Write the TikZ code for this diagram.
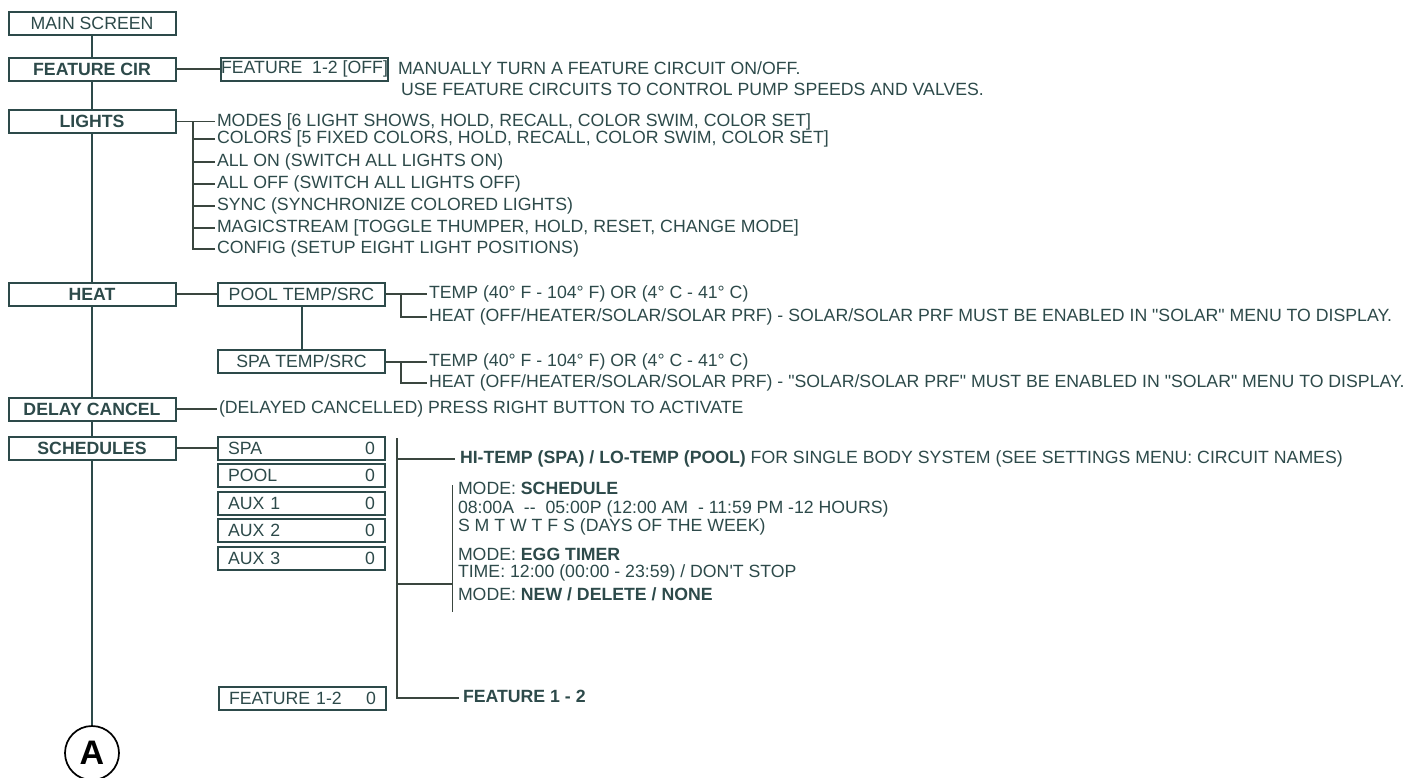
\documentclass[tikz,border=0pt]{standalone}
\usepackage{fontspec}
\setmainfont{Liberation Sans}[Ligatures=TeXOff]
\definecolor{ink}{HTML}{2D4A4A}
\definecolor{wire}{HTML}{3A463F}
\begin{document}
\begin{tikzpicture}[x=1pt, y=-1pt, color=ink, line width=2pt,
    every node/.style={font=\fontsize{17.7}{21}\selectfont},
    menu/.style={draw, fill=white, minimum width=167pt, minimum height=23pt, inner sep=0pt, font=\fontsize{17.7}{21}\selectfont\bfseries},
    sub/.style={draw, fill=white, minimum width=167pt, minimum height=23pt, inner sep=0pt},
    slot/.style={sub, text width=147pt, inner xsep=10pt, align=left},
    note/.style={anchor=west, inner sep=1pt, text height=12.5pt, text depth=3.5pt},
    link/.style={draw=wire}]
    \useasboundingbox (0,0) rectangle (1417,777);

    % main menu column
    \node[menu, font=\fontsize{17.7}{21}\selectfont] (main) at (92,23.5) {MAIN SCREEN};
    \node[menu] (fcir) at (92,69) {FEATURE CIR};
    \node[menu] (lights) at (92,121.5) {LIGHTS};
    \node[menu] (heat) at (92,294) {HEAT};
    \node[menu] (delay) at (92,409) {DELAY CANCEL};
    \node[menu] (sched) at (92,448) {SCHEDULES};
    \node[circle, draw=black, text=black, line width=1.7pt, minimum size=54pt, inner sep=0pt,
        font=\fontsize{34}{34}\selectfont\bfseries] (A) at (92,753) {A};
    \draw (main) -- (fcir) -- (lights) -- (heat) -- (delay) -- (sched) -- (A);

    % feature circuits
    \node[sub] (fbox) at (304.5,69) {FEATURE\ \ 1-2 [OFF]};
    \draw[link] (fcir) -- (fbox);
    \node[note] (fn1) at (396,70) {MANUALLY TURN A FEATURE CIRCUIT ON/OFF.};
    \node[note] (fn2) at (399,91) {USE FEATURE CIRCUITS TO CONTROL PUMP SPEEDS AND VALVES.};

    % lights
    \coordinate (lj) at (193,121.5);
    \foreach \k/\y/\t in {1/121.5/{MODES [6 LIGHT SHOWS, HOLD, RECALL, COLOR SWIM, COLOR SET]},
        2/139.3/{COLORS [5 FIXED COLORS, HOLD, RECALL, COLOR SWIM, COLOR SET]},
        3/161.7/{ALL ON (SWITCH ALL LIGHTS ON)},
        4/184/{ALL OFF (SWITCH ALL LIGHTS OFF)},
        5/206/{SYNC (SYNCHRONIZE COLORED LIGHTS)},
        6/228.3/{MAGICSTREAM [TOGGLE THUMPER, HOLD, RESET, CHANGE MODE]},
        7/249.3/{CONFIG (SETUP EIGHT LIGHT POSITIONS)}}
        \node[note] (l\k) at (215,\y) {\t};
    \draw[link, line width=1.5pt] (lights) -- (l1);
    \foreach \k in {2,...,7}
        \draw[link] (lj) |- (l\k.west);

    % heat
    \node[sub] (pool) at (301.5,294) {POOL TEMP/SRC};
    \node[sub] (spa) at (301.5,361.5) {SPA TEMP/SRC};
    \draw[link] (heat) -- (pool);
    \draw (pool) -- (spa);
    \coordinate (pj) at (401,294);
    \coordinate (sj) at (401,361.5);
    \node[note] (pt1) at (427,294) {TEMP (40° F - 104° F) OR (4° C - 41° C)};
    \node[note] (pt2) at (427,317) {HEAT (OFF/HEATER/SOLAR/SOLAR PRF) - SOLAR/SOLAR PRF MUST BE ENABLED IN "SOLAR" MENU TO DISPLAY.};
    \node[note] (st1) at (427,361.5) {TEMP (40° F - 104° F) OR (4° C - 41° C)};
    \node[note] (st2) at (427,383) {HEAT (OFF/HEATER/SOLAR/SOLAR PRF) - "SOLAR/SOLAR PRF" MUST BE ENABLED IN "SOLAR" MENU TO DISPLAY.};
    \draw[link] (pool) -- (pt1);
    \draw[link] (pj) |- (pt2.west);
    \draw[link] (spa) -- (st1);
    \draw[link] (sj) |- (st2.west);

    % delay cancel
    \node[note] (dtext) at (217,409) {(DELAYED CANCELLED) PRESS RIGHT BUTTON TO ACTIVATE};
    \draw[link] (delay) -- (dtext);

    % schedules
    \foreach \n [count=\i from 0] in {SPA, POOL, AUX 1, AUX 2, AUX 3}
        \node[slot] (s\i) at (301.5,{448+27.5*\i}) {\n\hfill 0};
    \node[slot] (s5) at (302.5,698.5) {FEATURE 1-2\hfill 0};
    \draw[link] (sched) -- (s0);

    \coordinate (sp) at (397,438);
    \coordinate (sb1) at (397,459);
    \coordinate (sb2) at (397,584);
    \node[note, inner xsep=3pt, font=\fontsize{17.7}{21}\selectfont\bfseries] (f12) at (459,698) {FEATURE 1 - 2};
    \node[note, inner xsep=4pt] (hit) at (455,459) {\textbf{HI-TEMP (SPA) / LO-TEMP (POOL)} FOR SINGLE BODY SYSTEM (SEE SETTINGS MENU: CIRCUIT NAMES)};
    \draw[link, line width=2.5pt] (sp) |- (f12.west);
    \draw[link, line width=2.5pt] (sb1) -- (hit);

    \foreach \k/\y/\t in {1/490/{MODE: \textbf{SCHEDULE}},
        2/509/{08:00A\ \ --\ \ 05:00P (12:00 AM\ \ - 11:59 PM -12 HOURS)},
        3/527/{S M T W T F S (DAYS OF THE WEEK)},
        4/556/{MODE: \textbf{EGG TIMER}},
        5/573/{TIME: 12:00 (00:00 - 23:59) / DON'T STOP},
        6/596/{MODE: \textbf{NEW / DELETE / NONE}}}
        \node[note] (m\k) at (456,\y) {\t};
    \coordinate (bt) at (452,485);
    \coordinate (bb) at (452,612);
    \draw[link, line width=1pt] (bt) -- (bb);
    \draw[link, line width=2.5pt] (sb2) -- (sb2 -| bt);
\end{tikzpicture}
\end{document}
